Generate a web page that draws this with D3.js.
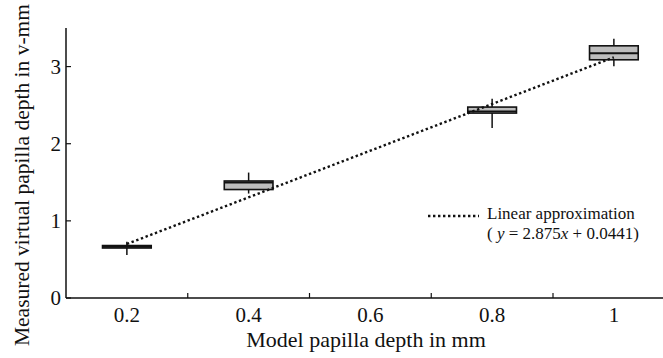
<!DOCTYPE html>
<html>
<head>
<meta charset="utf-8">
<script src="https://cdn.jsdelivr.net/npm/d3@7"></script>
<style>
  body { margin: 0; background: #fff; }
  text { font-family: "Liberation Serif", "Times New Roman", serif; fill: #111; }
</style>
</head>
<body>
<svg width="663" height="358"></svg>
<script>
// categories (model depth, mm) and box stats
var depths   = [0.2, 0.4, 0.8, 1];
var whiskLo  = [0.556, 1.354, 2.203, 3.005];
var boxLo    = [0.648, 1.406, 2.397, 3.088];
var medians  = [0.664, 1.497, 2.419, 3.173];
var boxHi    = [0.68, 1.517, 2.475, 3.269];
var whiskHi  = [0.728, 1.626, 2.583, 3.36];

var xLabels  = [0.2, 0.4, 0.6, 0.8, 1];
var xTicks   = [0.3, 0.5, 0.7, 0.9];
var yTicks   = [0, 1, 2, 3];

// linear approximation end points
var fitX = [0.2, 1];
var fitY = [0.70, 3.12];

var svg = d3.select("svg");
var mLeft = 66, mBottom = 298, mTop = 28;

var x = d3.scaleLinear().domain([0.1, 1.08]).range([mLeft, mLeft + 0.98 * 608.75]);
var y = d3.scaleLinear().domain([0, 3.5]).range([mBottom, mTop]);

// axes
svg.append("line").attr("x1", mLeft).attr("x2", mLeft).attr("y1", mTop).attr("y2", mBottom)
  .attr("stroke", "#111").attr("stroke-width", 1.5);
svg.append("line").attr("x1", mLeft).attr("x2", 663).attr("y1", mBottom).attr("y2", mBottom)
  .attr("stroke", "#111").attr("stroke-width", 1.5);

svg.selectAll(".ytick").data(yTicks).enter().append("line")
  .attr("x1", mLeft).attr("x2", mLeft + 5)
  .attr("y1", function(d) { return y(d); }).attr("y2", function(d) { return y(d); })
  .attr("stroke", "#111").attr("stroke-width", 1.2);
svg.selectAll(".ylab").data(yTicks).enter().append("text")
  .attr("x", mLeft - 5).attr("y", function(d) { return y(d) + 7; })
  .attr("text-anchor", "end").style("font-size", "21px")
  .text(function(d) { return d; });

svg.selectAll(".xtick").data(xTicks).enter().append("line")
  .attr("x1", function(d) { return x(d); }).attr("x2", function(d) { return x(d); })
  .attr("y1", mBottom).attr("y2", mBottom - 5)
  .attr("stroke", "#111").attr("stroke-width", 1.2);
svg.selectAll(".xlab").data(xLabels).enter().append("text")
  .attr("x", function(d) { return x(d); }).attr("y", 322)
  .attr("text-anchor", "middle").style("font-size", "21px")
  .text(function(d) { return d; });

svg.append("text").attr("x", 366).attr("y", 347).attr("text-anchor", "middle")
  .style("font-size", "22px").text("Model papilla depth in mm");
svg.append("text").attr("transform", "translate(29,175) rotate(-90)")
  .attr("text-anchor", "middle").style("font-size", "21.5px")
  .text("Measured virtual papilla depth in v-mm");

// boxes
var half = 0.04;
var g = svg.selectAll(".box").data(depths).enter().append("g");
g.append("line")
  .attr("x1", function(d) { return x(d); }).attr("x2", function(d) { return x(d); })
  .attr("y1", function(d, i) { return y(whiskLo[i]); })
  .attr("y2", function(d, i) { return y(whiskHi[i]); })
  .attr("stroke", "#111").attr("stroke-width", 1.5);
g.append("rect")
  .attr("x", function(d) { return x(d - half); })
  .attr("width", function(d) { return x(d + half) - x(d - half); })
  .attr("y", function(d, i) { return y(boxHi[i]); })
  .attr("height", function(d, i) { return y(boxLo[i]) - y(boxHi[i]); })
  .attr("fill", "#bdbdbd").attr("stroke", "#111").attr("stroke-width", 1.6);
g.append("line")
  .attr("x1", function(d) { return x(d - half); }).attr("x2", function(d) { return x(d + half); })
  .attr("y1", function(d, i) { return y(medians[i]); })
  .attr("y2", function(d, i) { return y(medians[i]); })
  .attr("stroke", "#111").attr("stroke-width", 1.8);

// fit line
svg.append("path")
  .attr("d", d3.line()([[x(fitX[0]), y(fitY[0])], [x(fitX[1]), y(fitY[1])]]))
  .attr("stroke", "#111").attr("stroke-width", 2.4).attr("fill", "none")
  .attr("stroke-dasharray", "2.4,2.6");

// legend
svg.append("line").attr("x1", 428).attr("x2", 479).attr("y1", 216).attr("y2", 216)
  .attr("stroke", "#111").attr("stroke-width", 2.4).attr("stroke-dasharray", "2.4,2.6");
svg.append("text").attr("x", 487).attr("y", 219).style("font-size", "17px")
  .text("Linear approximation");
var eq = svg.append("text").attr("x", 487).attr("y", 239).style("font-size", "17px");
eq.append("tspan").text("( ");
eq.append("tspan").style("font-style", "italic").text("y");
eq.append("tspan").text(" = 2.875");
eq.append("tspan").style("font-style", "italic").text("x");
eq.append("tspan").text(" + 0.0441)");
</script>
</body>
</html>
